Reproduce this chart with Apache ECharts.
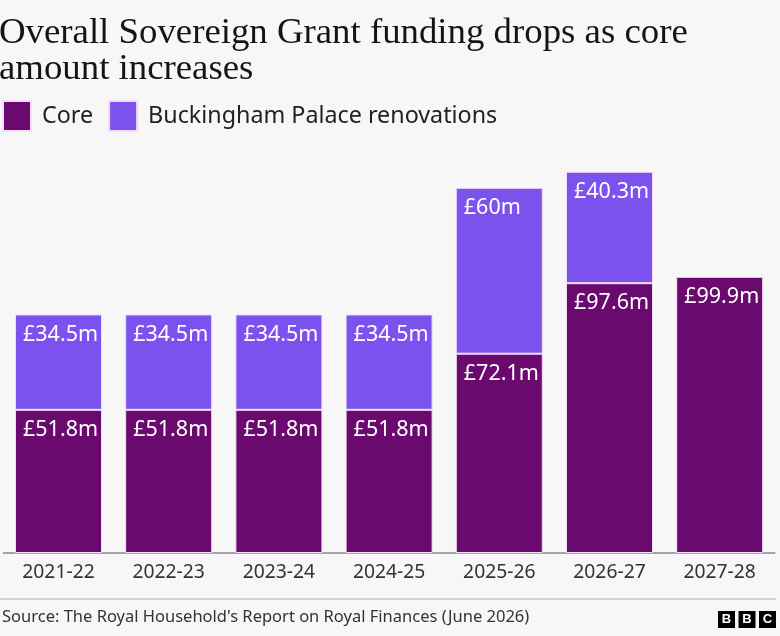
<!DOCTYPE html>
<html>
<head>
<meta charset="utf-8">
<script src="https://cdn.jsdelivr.net/npm/echarts@6/dist/echarts.min.js"></script>
<style>
  html, body { margin: 0; padding: 0; background: #f7f7f7; }
  #chart { width: 780px; height: 636px; }
</style>
</head>
<body>
<div id="chart"></div>
<script>
// data
const years = ["2021-22", "2022-23", "2023-24", "2024-25", "2025-26", "2026-27", "2027-28"]
const core = [51.8, 51.8, 51.8, 51.8, 72.1, 97.6, 99.9]
const renovations = [34.5, 34.5, 34.5, 34.5, 60, 40.3, '-']

const coreColor = '#6a0a6e'
const renoColor = '#7b52ee'

let myChart = echarts.init(document.getElementById('chart'))

let labelStyle = {
  show: true,
  position: [8, 9],
  color: '#ffffff',
  fontFamily: 'Noto Sans',
  fontSize: 21.5,
  formatter: function (p) { return '£' + p.value + 'm' }
}

let option = {
  backgroundColor: '#f7f7f7',
  animation: false,
  title: {
    text: 'Overall Sovereign Grant funding drops as core\namount increases',
    left: -1,
    top: 15,
    padding: 0,
    textStyle: {
      fontFamily: 'Liberation Serif',
      fontWeight: 'normal',
      fontSize: 36.8,
      lineHeight: 36.5,
      color: '#141414'
    }
  },
  legend: {
    left: 2,
    top: 100,
    padding: 0,
    itemWidth: 28,
    itemHeight: 30,
    itemGap: 15,
    icon: 'rect',
    textStyle: { fontFamily: 'Noto Sans', fontSize: 23.3, color: '#222', padding: [0, 0, 0, 6] },
    data: ['Core', 'Buckingham Palace renovations']
  },
  grid: { left: 3.4, right: 5.2, top: 166, bottom: 83 },
  xAxis: {
    type: 'category',
    data: years,
    axisLine: { lineStyle: { color: '#8a8a8a', width: 1.5 } },
    axisTick: { alignWithLabel: true, length: 6, lineStyle: { color: '#8a8a8a' } },
    axisLabel: { margin: 10, fontFamily: 'Noto Sans', fontSize: 19.3, color: '#333' }
  },
  yAxis: {
    type: 'value',
    min: 0,
    max: 140,
    show: false,
    splitLine: { show: false }
  },
  series: [
    {
      name: 'Core',
      type: 'bar',
      stack: 'total',
      barWidth: 87,
      data: core,
      itemStyle: { color: coreColor, borderColor: '#f4dcf6', borderWidth: 1 },
      label: labelStyle
    },
    {
      name: 'Buckingham Palace renovations',
      type: 'bar',
      stack: 'total',
      barWidth: 87,
      data: renovations,
      itemStyle: { color: renoColor, borderColor: '#f4dcf6', borderWidth: 1 },
      label: labelStyle
    }
  ],
  graphic: [
    {
      type: 'line',
      shape: { x1: 0, y1: 599, x2: 776, y2: 599 },
      style: { stroke: '#c8c8c8', lineWidth: 1.5 }
    },
    {
      type: 'text',
      left: 2,
      top: 609,
      style: {
        text: "Source: The Royal Household's Report on Royal Finances (June 2026)",
        fontFamily: 'Noto Sans',
        fontSize: 16.5,
        fill: '#333'
      }
    },
    { type: 'rect', shape: { x: 718, y: 611, width: 17, height: 17 }, style: { fill: '#000' } },
    { type: 'rect', shape: { x: 738.5, y: 611, width: 17, height: 17 }, style: { fill: '#000' } },
    { type: 'rect', shape: { x: 759, y: 611, width: 17, height: 17 }, style: { fill: '#000' } },
    { type: 'text', style: { x: 726.5, y: 619.5, text: 'B', align: 'center', verticalAlign: 'middle', fontFamily: 'Liberation Sans', fontWeight: 'bold', fontSize: 13, fill: '#fff' } },
    { type: 'text', style: { x: 747, y: 619.5, text: 'B', align: 'center', verticalAlign: 'middle', fontFamily: 'Liberation Sans', fontWeight: 'bold', fontSize: 13, fill: '#fff' } },
    { type: 'text', style: { x: 767.5, y: 619.5, text: 'C', align: 'center', verticalAlign: 'middle', fontFamily: 'Liberation Sans', fontWeight: 'bold', fontSize: 13, fill: '#fff' } }
  ]
}

myChart.setOption(option)
</script>
</body>
</html>
